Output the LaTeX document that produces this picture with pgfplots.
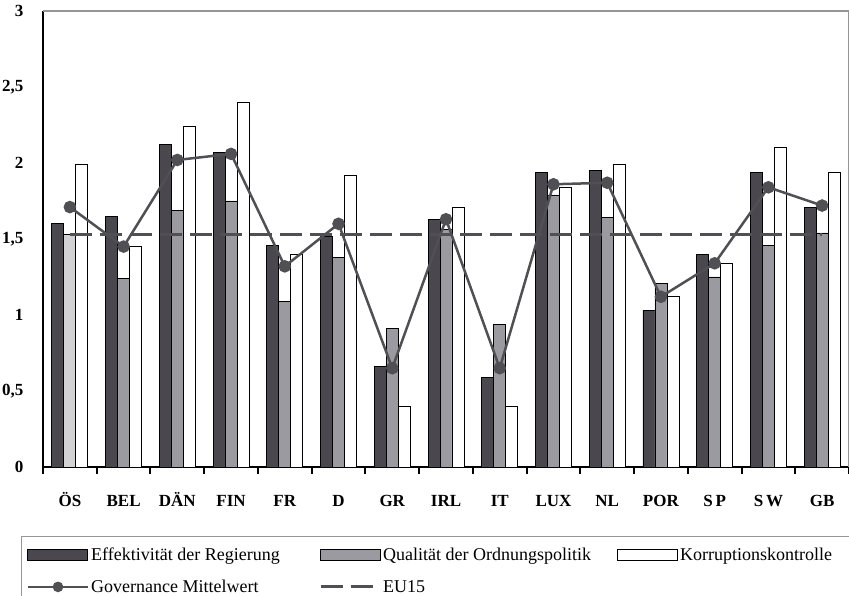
\documentclass[border=0pt]{standalone}
\usepackage{fontspec}
\setmainfont{Liberation Serif}
\usepackage{pgfplots}
\pgfplotsset{compat=1.18}
\definecolor{cdark}{RGB}{74,71,79}
\definecolor{cmid}{RGB}{155,154,160}
\definecolor{clight}{RGB}{210,210,212}
\definecolor{cline}{RGB}{80,79,84}
\definecolor{cframe}{RGB}{150,150,150}
\pgfplotsset{
  barlegend/.style={legend image code/.code={\draw[##1, line width=1pt] (0pt,-5.5pt) rectangle (60pt,5.5pt);}},
  meanlegend/.style={legend image code/.code={\draw[##1, mark repeat=2, mark phase=2, mark size=4pt] plot coordinates {(0pt,0pt) (30pt,0pt) (60pt,0pt)};}},
  dashlegend/.style={legend image code/.code={\draw[##1] (0pt,0pt) -- (52pt,0pt);}},
}
\begin{document}
\begin{tikzpicture}
\path[use as bounding box] (0pt,0pt) rectangle (849pt,596pt);
\begin{axis}[
  at={(43pt,129pt)}, anchor=south west,
  scale only axis, width=806pt, height=456pt,
  xmin=-0.5, xmax=14.5, ymin=0, ymax=3,
  axis x line*=bottom, axis y line*=left,
  axis line style={black, line width=2pt, -},
  xtick={-0.5,0.5,1.5,2.5,3.5,4.5,5.5,6.5,7.5,8.5,9.5,10.5,11.5,12.5,13.5,14.5},
  x tick label as interval,
  xticklabels={ÖS,BEL,DÄN,FIN,FR,D,GR,IRL,IT,LUX,NL,POR,S\,P,S\,W,GB},
  x tick style={draw=black, line width=2pt},
  major tick length=7pt,
  tick align=outside,
  ytick={0,0.5,...,3},
  ytick style={draw=none},
  xticklabel style={font=\fontsize{17}{17}\selectfont\bfseries, text height=12pt, text depth=0pt, yshift=-16.5pt},
  yticklabel style={font=\fontsize{17}{17}\selectfont\bfseries, xshift=-9pt,
     /pgf/number format/use comma, /pgf/number format/fixed,
     /pgf/number format/assume math mode=true},
  legend columns=3,
  legend cell align=left,
  legend style={at={(axis description cs:-0.0273,-0.1513)}, anchor=north west,
     draw=cframe, line width=1.5pt, font=\fontsize{18}{20}\selectfont,
     inner xsep=5pt, inner ysep=9pt,
     /tikz/every even column/.append style={column sep=0pt},
     row sep=14pt},
]
\addplot[ybar, bar width=0.223, bar shift=-0.223, fill=cdark, draw=black, line width=0.8pt, barlegend]
 coordinates {(0,1.60) (1,1.65) (2,2.12) (3,2.07) (4,1.46) (5,1.52) (6,0.66) (7,1.63) (8,0.59) (9,1.94) (10,1.95) (11,1.03) (12,1.40) (13,1.94) (14,1.71)};
\addlegendentry{\makebox[226pt][l]{Effektivität der Regierung}}
\addplot[ybar, bar width=0.223, bar shift=0, fill=cmid, draw=black, line width=0.8pt, barlegend]
 coordinates {(1,1.24) (2,1.69) (3,1.75) (4,1.09) (5,1.38) (6,0.91) (7,1.56) (8,0.94) (9,1.79) (10,1.64) (11,1.21) (12,1.25) (13,1.46) (14,1.54)};
\addlegendentry{\makebox[232pt][l]{Qualität der Ordnungspolitik}}
\addplot[ybar, bar width=0.223, bar shift=0.223, fill=white, draw=black, line width=0.8pt, barlegend]
 coordinates {(0,1.99) (1,1.45) (2,2.24) (3,2.40) (4,1.40) (5,1.92) (6,0.40) (7,1.71) (8,0.40) (9,1.84) (10,1.99) (11,1.12) (12,1.34) (13,2.10) (14,1.94)};
\addlegendentry{\makebox[175pt][l]{Korruptionskontrolle}}
\addplot[ybar, bar width=0.223, bar shift=0, fill=clight, draw=black, line width=0.8pt, forget plot]
 coordinates {(0,1.53)};
\addplot[cline, line width=2.5pt, mark=*, mark size=5pt, mark options={fill=cline, draw=cline}, meanlegend]
 coordinates {(0,1.71) (1,1.45) (2,2.02) (3,2.06) (4,1.32) (5,1.60) (6,0.65) (7,1.63) (8,0.65) (9,1.86) (10,1.87) (11,1.12) (12,1.34) (13,1.84) (14,1.72)};
\addlegendentry{Governance Mittelwert}
\addplot[cline, line width=3pt, dash pattern=on 22pt off 8pt, dashlegend]
 coordinates {(0,1.53) (1,1.53) (2,1.53) (3,1.53) (4,1.53) (5,1.53) (6,1.53) (7,1.53) (8,1.53) (9,1.53) (10,1.53) (11,1.53) (12,1.53) (13,1.53) (14,1.53)};
\addlegendentry{EU15}
\draw[cframe, line width=1.2pt] (rel axis cs:0,1) -- (rel axis cs:1,1) -- (rel axis cs:1,0);
\end{axis}
\end{tikzpicture}
\end{document}
